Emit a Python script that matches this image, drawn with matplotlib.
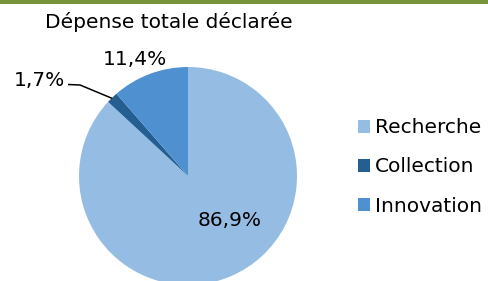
import matplotlib
matplotlib.use("Agg")
import matplotlib.pyplot as plt

# Data
categories = ['Recherche', 'Collection', 'Innovation']
values = [86.9, 1.7, 11.4]
value_labels = ['86,9%', '1,7%', '11,4%']
colors = ['#95BDE3', '#255E91', '#4F91D0']
title = 'Dépense totale déclarée'

plt.rcParams['font.family'] = ['DejaVu Sans']

W, H = 488, 281
fig = plt.figure(figsize=(W / 100, H / 100), dpi=100)
# axes in pixel coordinates (y up)
ax = fig.add_axes([0, 0, 1, 1])

# green band at top
ax.axhspan(H - 4, H, color='#77933C', lw=0)

cx, cy, r = 188, H - 176, 109
wedges, _ = ax.pie(values, colors=colors, startangle=90, counterclock=False,
                   center=(cx, cy), radius=r, frame=True,
                   wedgeprops=dict(linewidth=0))
ax.set_xlim(0, W)
ax.set_ylim(0, H)
ax.set_aspect('equal')
ax.axis('off')

fs = 14.5
# title
ax.text(45, H - 28.5, title, fontsize=fs, ha='left', va='baseline', color='#000000')

# data labels (Excel-like placement)
ax.text(230, H - 226.5, value_labels[0], fontsize=fs, ha='center', va='baseline')
ax.text(39, H - 86, value_labels[1], fontsize=fs, ha='center', va='baseline')
ax.text(135, H - 65, value_labels[2], fontsize=fs, ha='center', va='baseline')

# leader line for the small slice
ax.plot([68, 80, 112], [H - 84.5, H - 85, H - 98.3], color='black', lw=1.1,
        solid_capstyle='butt')

ax.legend(wedges, categories, loc='center left', frameon=False,
          bbox_to_anchor=(358 / W, 1 - 167 / H), bbox_transform=fig.transFigure,
          fontsize=fs, handlelength=0.6, handleheight=0.6, handletextpad=0.25,
          labelspacing=1.0, borderpad=0, borderaxespad=0)

fig.savefig('out.png', dpi=100)
